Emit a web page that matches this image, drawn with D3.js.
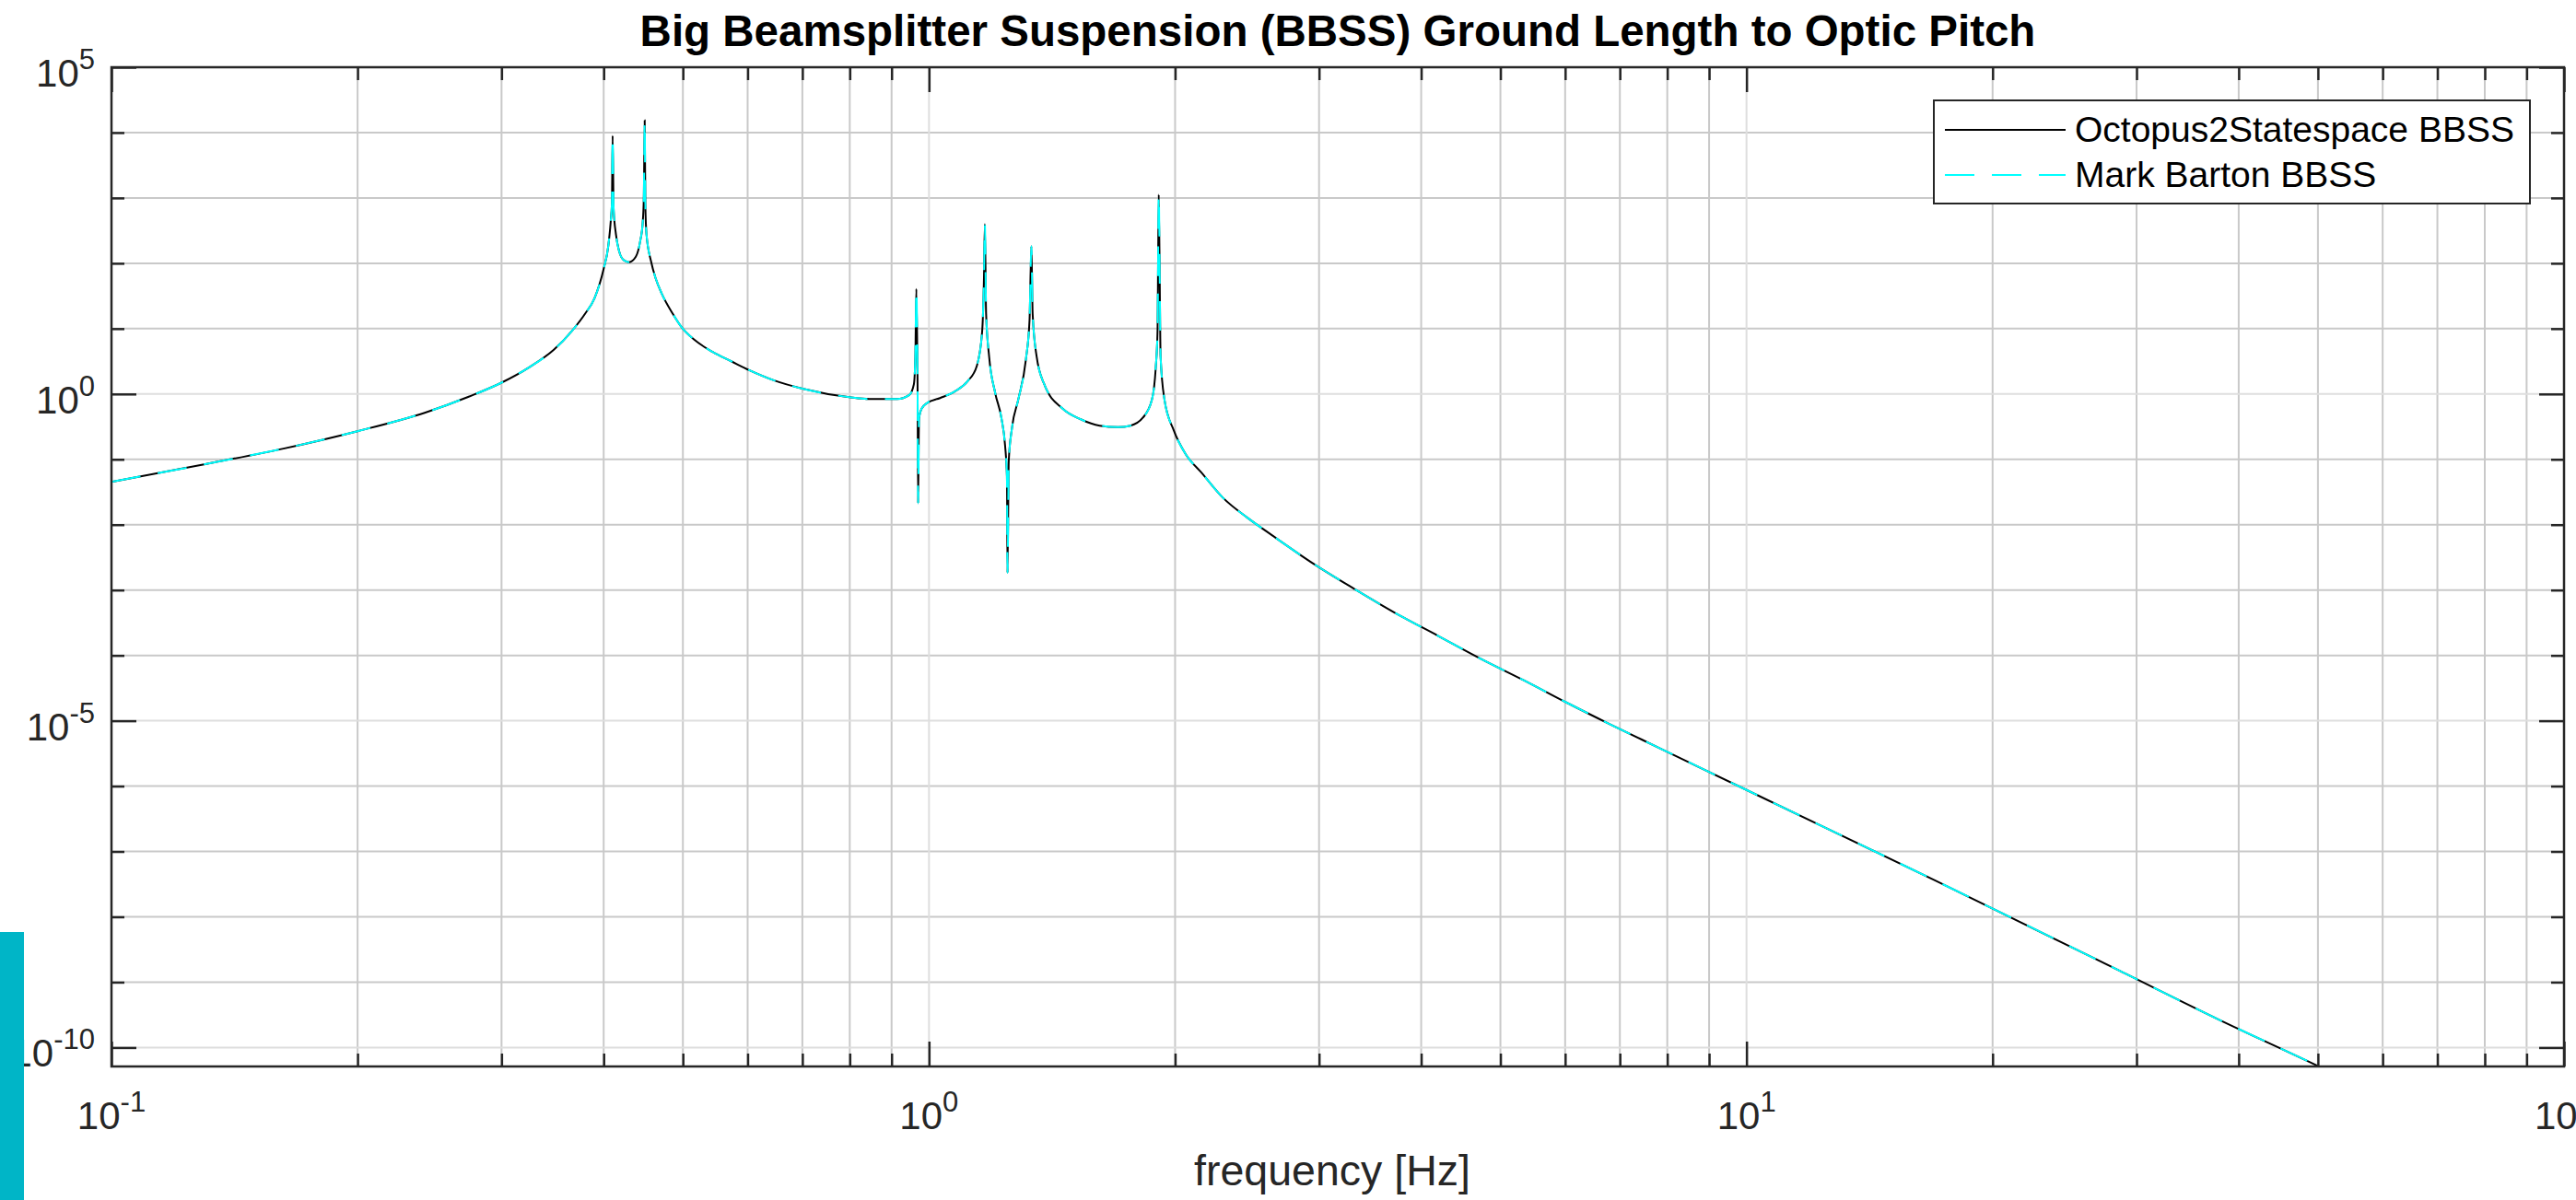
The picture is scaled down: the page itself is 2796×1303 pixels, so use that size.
<!DOCTYPE html>
<html>
<head>
<meta charset="utf-8">
<script src="https://cdn.jsdelivr.net/npm/d3@7"></script>
<style>
body{margin:0;background:#fff;}
svg{display:block;font-family:"Liberation Sans",Arial,Helvetica,sans-serif;}
</style>
</head>
<body>
<script>
var title="Big Beamsplitter Suspension (BBSS) Ground Length to Optic Pitch";
var xLabel="frequency [Hz]";
var seriesNames=["Octopus2Statespace BBSS","Mark Barton BBSS"];

// frequency [Hz] of the points
var freqHz=[0.100,0.1307,0.1623,0.200,0.2416,0.274,0.300,0.3243,0.3476,0.3662,
 0.3797,0.3898,0.3999,0.4052,0.4080,0.4094,0.4102,0.4114,0.4140,0.4177,
 0.4231,0.4296,0.4379,0.4436,0.4463,0.4479,0.4490,0.4498,0.4512,0.4571,
 0.4631,0.4711,0.4858,0.4985,0.5162,0.5437,0.5728,0.6034,0.6467,0.7019,
 0.7990,0.8455,0.9140,0.9461,0.9583,0.9623,0.9649,0.9683,0.9698,0.9723,
 0.9794,0.9965,1.0316,1.0772,1.1150,1.1443,1.1614,1.1675,1.1704,1.1745,
 1.1846,1.2053,1.2262,1.2390,1.2455,1.2475,1.2519,1.2637,1.2859,1.3137,
 1.3274,1.3343,1.3390,1.3542,1.3835,1.4573,1.5351,1.6171,1.7035,1.7638,
 1.8258,1.8739,1.8935,1.9034,1.9099,1.9200,1.9410,1.9922,2.0626,2.1528,
 2.2878,2.4515,2.6271,2.9532,3.3184,3.7135,4.1925,4.7315,5.3395,6.0281,
 6.8045,7.8163,10.0,17.02,28.61,37.76,50.1,56.2];

// magnitude, Octopus2Statespace
var octopusMag=[0.0453,0.0851,0.146,0.270,0.516,0.916,1.49,2.56,4.74,9.38,
 17.0,29.2,81.3,183,435,832,8950,668,282,155,
 112,104,126,227,391,1033,15380,832,282,107,
 58.7,34.3,17.0,10.4,6.78,4.39,3.17,2.30,1.61,1.20,
 0.895,0.840,0.840,0.968,1.41,3.73,40.4,1.41,0.0213,0.431,
 0.596,0.738,0.867,1.11,1.57,2.70,8.87,62.2,398,17.0,
 3.73,1.02,0.431,0.163,0.0551,0.00183,0.0946,0.311,0.822,3.35,
 13.6,183,17.0,3.73,1.41,0.596,0.407,0.328,0.311,0.328,
 0.431,0.822,2.43,8.87,1125,3.73,0.822,0.279,0.1175,0.0631,
 0.0259,0.0128,0.00692,0.00253,0.00103,4.49e-4,2.0e-4,8.87e-5,4.17e-5,1.89e-5,
 8.87e-6,3.85e-6,8.73e-7,3.58e-8,1.49e-9,2.70e-10,5.16e-11,2.57e-11];

// Mark Barton trace: lies right on top of the solid one everywhere
var bartonMag=octopusMag;

var xTickExp=[-1,0,1,2];
var yTickExp=[-10,-5,0,5];

var W=2796,H=1303;
var plot={left:121,top:73,right:2783,bottom:1158};
var axisCol="#262626";

var svg=d3.select("body").append("svg").attr("width",W).attr("height",H);

var x=d3.scaleLog().domain([0.1,100]).range([plot.left,plot.right]);
var y=d3.scaleLog().domain([Math.pow(10,-10.29),1e5]).range([plot.bottom,plot.top]);

var xMajor=xTickExp.map(function(e){return Math.pow(10,e);});
var xMinor=[];
for(var d=-1;d<2;d++) for(var k=2;k<10;k++) xMinor.push(k*Math.pow(10,d));
var yMajor=yTickExp.map(function(e){return Math.pow(10,e);});
var yMinor=[];
for(var e=-10;e<=5;e++) if(yTickExp.indexOf(e)<0) yMinor.push(Math.pow(10,e));

// grid
var grid=svg.append("g");
grid.selectAll(".vmin").data(xMinor).enter().append("line")
 .attr("x1",x).attr("x2",x).attr("y1",plot.top).attr("y2",plot.bottom)
 .attr("stroke","#c9c9c9").attr("stroke-width",2);
grid.selectAll(".hmin").data(yMinor).enter().append("line")
 .attr("y1",y).attr("y2",y).attr("x1",plot.left).attr("x2",plot.right)
 .attr("stroke","#c9c9c9").attr("stroke-width",2);
grid.selectAll(".vmaj").data(xMajor).enter().append("line")
 .attr("x1",x).attr("x2",x).attr("y1",plot.top).attr("y2",plot.bottom)
 .attr("stroke","#dedede").attr("stroke-width",2);
grid.selectAll(".hmaj").data(yMajor).enter().append("line")
 .attr("y1",y).attr("y2",y).attr("x1",plot.left).attr("x2",plot.right)
 .attr("stroke","#dedede").attr("stroke-width",2);

// traces
svg.append("clipPath").attr("id","clip").append("rect")
 .attr("x",plot.left).attr("y",plot.top)
 .attr("width",plot.right-plot.left).attr("height",plot.bottom-plot.top);

var line=d3.line()
 .x(function(p){return x(p[0]);})
 .y(function(p){return y(p[1]);})
 .curve(d3.curveMonotoneX);

var traces=svg.append("g").attr("clip-path","url(#clip)");
traces.append("path").datum(d3.zip(freqHz,octopusMag))
 .attr("d",line).attr("fill","none").attr("stroke","#000").attr("stroke-width",2);
traces.append("path").datum(d3.zip(freqHz,bartonMag))
 .attr("d",line).attr("fill","none").attr("stroke","#00ffff").attr("stroke-width",2)
 .attr("stroke-dasharray","32,19");

// box and ticks
svg.append("rect").attr("x",plot.left).attr("y",plot.top)
 .attr("width",plot.right-plot.left).attr("height",plot.bottom-plot.top)
 .attr("fill","none").attr("stroke",axisCol).attr("stroke-width",2.5);

function ticks(gen,vals,len,tx,ty){
  var g=svg.append("g").attr("transform","translate("+tx+","+ty+")")
   .call(gen.tickValues(vals).tickSize(-len).tickFormat(""));
  g.select(".domain").remove();
  g.selectAll("line").attr("stroke",axisCol).attr("stroke-width",2.5);
}
ticks(d3.axisBottom(x),xMajor,27,0,plot.bottom);
ticks(d3.axisBottom(x),xMinor,14,0,plot.bottom);
ticks(d3.axisTop(x),xMajor,27,0,plot.top);
ticks(d3.axisTop(x),xMinor,14,0,plot.top);
ticks(d3.axisLeft(y),yMajor,27,plot.left,0);
ticks(d3.axisLeft(y),yMinor,14,plot.left,0);
ticks(d3.axisRight(y),yMajor,27,plot.right,0);
ticks(d3.axisRight(y),yMinor,14,plot.right,0);

// tick labels 10^n
function powLabel(sel){
  sel.append("tspan").text("10");
  sel.append("tspan").attr("font-size",31).attr("dy",-19).text(function(e){return e;});
}
svg.append("g").selectAll("text").data(xTickExp).enter().append("text")
 .attr("x",function(e){return x(Math.pow(10,e));}).attr("y",1226)
 .attr("text-anchor","middle").attr("font-size",42).attr("fill",axisCol)
 .call(powLabel);
svg.append("g").selectAll("text").data(yTickExp).enter().append("text")
 .attr("x",103).attr("y",function(e){return y(Math.pow(10,e))+21;})
 .attr("text-anchor","end").attr("font-size",42).attr("fill",axisCol)
 .call(powLabel);

// axis label and title
svg.append("text").attr("x",1446).attr("y",1287).attr("text-anchor","middle")
 .attr("font-size",46.5).attr("fill",axisCol).text(xLabel);
svg.append("text").attr("x",(plot.left+plot.right)/2).attr("y",50).attr("text-anchor","middle")
 .attr("font-size",47.5).attr("font-weight","bold").attr("fill","#000").text(title);

// legend
var leg=svg.append("g");
leg.append("rect").attr("x",2099).attr("y",109).attr("width",647).attr("height",112)
 .attr("fill","#fff").attr("stroke",axisCol).attr("stroke-width",2);
var legStyles=[{c:"#000",dash:null},{c:"#00ffff",dash:"32,19"}];
seriesNames.forEach(function(n,i){
  var yy=141+i*49;
  leg.append("line").attr("x1",2111).attr("x2",2242).attr("y1",yy).attr("y2",yy)
   .attr("stroke",legStyles[i].c).attr("stroke-width",2)
   .attr("stroke-dasharray",legStyles[i].dash);
  leg.append("text").attr("x",2252).attr("y",yy+13).attr("font-size",39)
   .attr("fill","#000").text(n);
});

// teal strip at the lower left edge
svg.append("rect").attr("x",0).attr("y",1012).attr("width",26).attr("height",H-1012)
 .attr("fill","#00b5c7");
</script>
</body>
</html>
